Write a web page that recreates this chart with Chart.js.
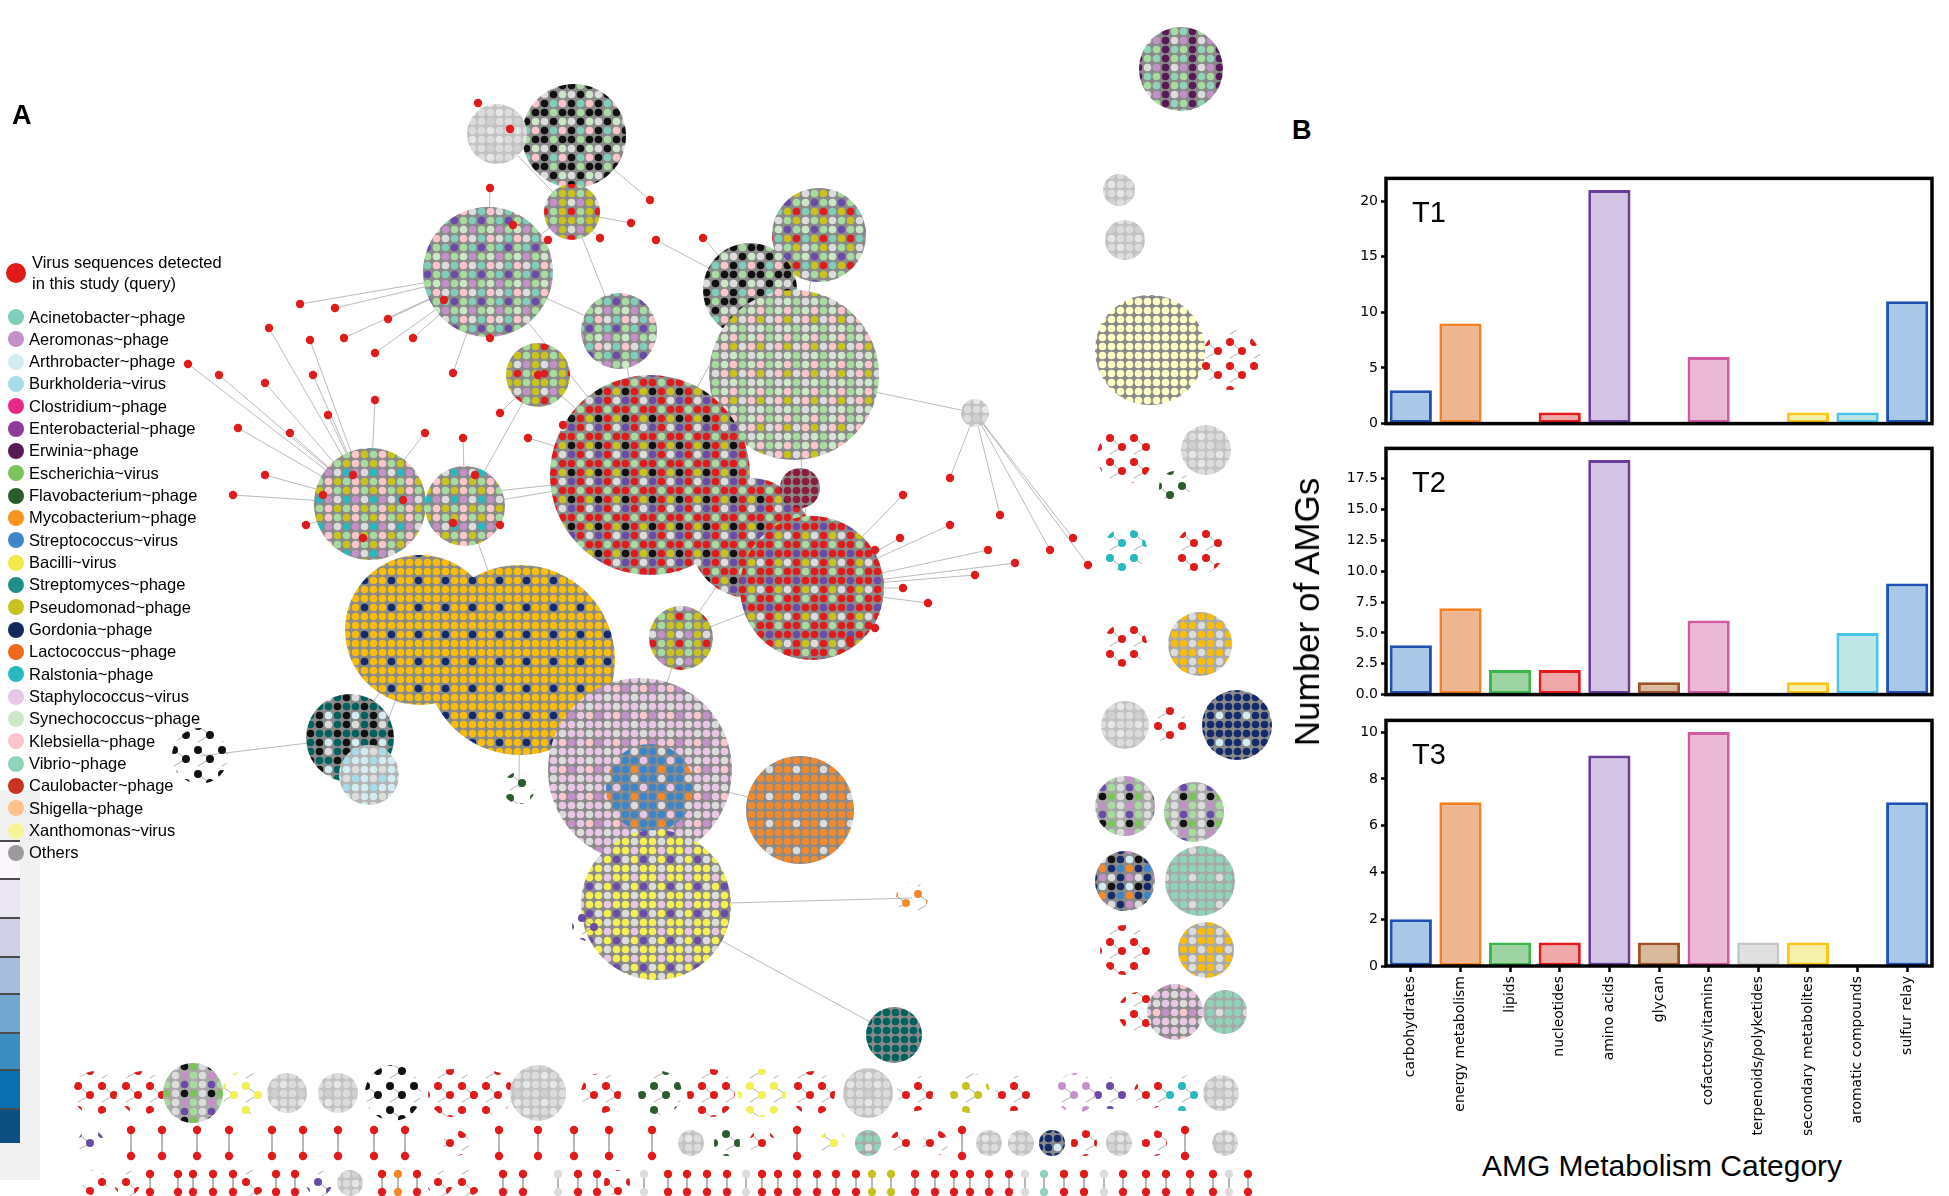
<!DOCTYPE html>
<html>
<head>
<meta charset="utf-8">
<script src="https://cdn.jsdelivr.net/npm/chart.js@4.4.0/dist/chart.umd.min.js"></script>
<style>
  body { margin:0; width:1949px; height:1196px; background:#fff; position:relative; overflow:hidden;
         font-family:"Liberation Sans", Arial, sans-serif; }
  canvas { position:absolute; }
  .lbl { position:absolute; white-space:nowrap; color:#000; }
  .panel { font-weight:bold; font-size:27px; }
  #legend { position:absolute; left:0; top:0; z-index:5; }
  .lg { position:absolute; font-size:16.5px; line-height:21px; white-space:nowrap; }
  .dot { position:absolute; border-radius:50%; }
  .strip { position:absolute; }
</style>
</head>
<body>
<canvas id="net" width="1290" height="1196" style="left:0;top:0"></canvas>
<canvas id="t1" width="659" height="268" style="left:1290px;top:172px"></canvas>
<canvas id="t2" width="659" height="269" style="left:1290px;top:442px"></canvas>
<canvas id="t3" width="659" height="426" style="left:1290px;top:714px"></canvas>
<div id="legend"></div>
<div class="lbl panel" style="left:12px;top:100px">A</div>
<div class="lbl panel" style="left:1292px;top:115px">B</div>
<div class="lbl" style="left:1307px;top:612px;font-size:35px;transform:translate(-50%,-50%) rotate(-90deg)">Number of AMGs</div>
<div class="lbl" style="left:1662px;top:1166px;font-size:30px;transform:translate(-50%,-50%)">AMG Metabolism Category</div>
<script>
// ---------- panel B data ----------
const categories = ['carbohydrates', 'energy metabolism', 'lipids', 'nucleotides', 'amino acids', 'glycan',
  'cofactors/vitamins', 'terpenoids/polyketides', 'secondary metabolites', 'aromatic compounds', 'sulfur relay'];
const t1Values = [3, 9, 0, 1, 21, 0, 6, 0, 1, 1, 11];
const t2Values = [4, 7, 2, 2, 19, 1, 6, 0, 1, 5, 9];
const t3Values = [2, 7, 1, 1, 9, 1, 10, 1, 1, 0, 7];
const t1Ticks = [0, 5, 10, 15, 20];
const t2Ticks = [0, 2.5, 5, 7.5, 10, 12.5, 15, 17.5];
const t3Ticks = [0, 2, 4, 6, 8, 10];

const barFill = ['#a9c8e8', '#eeb592', '#9dd4a1', '#f0a9a9', '#d4c5e5', '#d9ba9c', '#ebb8d5', '#e0e0e0', '#f5f0aa', '#c0e5e5', '#a9c8e8'];
const barEdge = ['#1f51b5', '#f58020', '#3cb64a', '#e41a1c', '#6a3d9a', '#9e5427', '#d159a1', '#c6c6c6', '#fdc41a', '#4ac5ea', '#1f51b5'];

// ---------- panel A data (positions, in page pixels) ----------
const legendNames = ['Acinetobacter~phage', 'Aeromonas~phage', 'Arthrobacter~phage', 'Burkholderia~virus', 'Clostridium~phage',
  'Enterobacterial~phage', 'Erwinia~phage', 'Escherichia~virus', 'Flavobacterium~phage', 'Mycobacterium~phage',
  'Streptococcus~virus', 'Bacilli~virus', 'Streptomyces~phage', 'Pseudomonad~phage', 'Gordonia~phage',
  'Lactococcus~phage', 'Ralstonia~phage', 'Staphylococcus~virus', 'Synechococcus~phage', 'Klebsiella~phage',
  'Vibrio~phage', 'Caulobacter~phage', 'Shigella~phage', 'Xanthomonas~virus', 'Others'];
const legendColors = ['#7fcdbb', '#c391c8', '#d3ecf1', '#a6dce8', '#e7298a', '#8e3b97', '#561a57', '#7dc35c', '#2b5c2e',
  '#f7941d', '#3d85c6', '#f3ea48', '#1f8f8a', '#c7c21e', '#10295a', '#ee6a1a', '#27b9bd', '#e6c7e6', '#cbe7c6',
  '#fbc6cb', '#8fd4b9', '#c8321f', '#fcc18c', '#f7f598', '#9a9a9a'];

const clusterX = [574, 497, 572, 488, 619, 819, 750, 794, 538, 650, 750, 812, 370, 465, 681, 420, 520, 640, 650, 656, 800,
  350, 200, 369, 894, 912, 519, 588, 800, 975,
  1181, 1119, 1125, 1150, 1231, 1125, 1206, 1175, 1125, 1200, 1125, 1200, 1237, 1125, 1169, 1125, 1194, 1125, 1200,
  1125, 1206, 1138, 1175, 1225];
const clusterY = [136, 134, 212, 272, 331, 235, 290, 375, 375, 475, 538, 588, 504, 506, 638, 630, 660, 770, 788, 905, 810,
  738, 756, 775, 1035, 898, 788, 925, 488, 413,
  69, 190, 240, 350, 360, 456, 450, 487, 550, 550, 645, 644, 725, 725, 725, 806, 812, 881, 881,
  950, 950, 1012, 1012, 1012];
const clusterR = [52, 30, 28, 65, 38, 47, 47, 85, 32, 100, 60, 72, 56, 40, 32, 75, 95, 92, 44, 75, 54,
  44, 28, 30, 28, 16, 16, 16, 20, 14,
  42, 16, 20, 55, 30, 28, 25, 16, 22, 24, 22, 32, 35, 24, 18, 30, 30, 30, 35,
  25, 28, 20, 28, 22];
const clusterKind = ['blackMix', 'lightGray', 'oliveMix', 'greenMix', 'greenMix', 'greenOlive', 'blackMix', 'lgreenPink',
  'oliveMix', 'central', 'central', 'redMix', 'pinkMix', 'pinkMix', 'oliveMix', 'gold', 'gold', 'staph', 'blue',
  'yellow', 'orange', 'tealMix', 'blackSparse', 'lblue', 'dteal', 'orangeSparse', 'dkgreenSparse', 'purpleMix',
  'caulo', 'lightGray',
  'erwinia', 'lightGray', 'lightGray', 'lyellow', 'redSparse', 'redSparse', 'lightGray', 'dkgreenSparse', 'tealSparse',
  'redSparse', 'redSparse', 'goldGray', 'navy', 'lightGray', 'redSparse', 'greenGray', 'greenGray', 'navyMix', 'vibrio',
  'redSparse', 'goldGray', 'redSparse', 'staph', 'vibrio'];
const links = [[0, 2], [1, 2], [1, 0], [2, 4], [2, 3], [3, 4], [3, 9], [4, 9], [5, 7], [6, 7], [6, 9], [7, 9], [8, 9],
  [8, 13], [9, 10], [9, 13], [12, 13], [10, 11], [13, 16], [11, 14], [14, 17], [16, 17], [15, 21], [21, 22], [21, 23],
  [15, 23], [17, 18], [17, 20], [17, 19], [19, 25], [19, 24], [19, 27], [26, 16], [14, 10], [28, 11], [29, 7], [9, 12], [7, 11]];

const queryX = [300, 335, 269, 310, 344, 188, 219, 265, 313, 375, 413, 453, 490, 375, 328, 290, 265, 233, 425, 463, 500,
  528, 353, 403, 453, 500, 538, 563, 306, 363, 388, 444, 238, 323, 475,
  478, 510, 490, 513, 548, 600, 656, 703, 650, 631,
  950, 1000, 1073, 1088, 1015, 875, 903, 928, 875, 850, 950, 903, 988, 1050, 975, 900];
const queryY = [304, 308, 328, 340, 338, 364, 375, 383, 375, 353, 338, 373, 338, 400, 415, 433, 475, 495, 433, 438, 413,
  438, 475, 500, 523, 525, 375, 425, 525, 538, 319, 300, 428, 495, 475,
  103, 129, 188, 225, 240, 238, 240, 238, 200, 223,
  525, 515, 538, 565, 563, 550, 588, 603, 628, 640, 478, 495, 550, 550, 575, 538];

// small components along the bottom
const row1X = [95, 142, 193, 244, 287, 338, 393, 452, 491, 538, 601, 660, 711, 762, 813, 868, 915, 970, 1013, 1076, 1111, 1150, 1182, 1221];
const row1Kind = ['redSparse', 'redSparse', 'greenGray', 'yellowSparse', 'lightGray', 'lightGray', 'blackSparse', 'redSparse',
  'redSparse', 'lightGray', 'redSparse', 'dkgreenSparse', 'redSparse', 'yellowSparse', 'redSparse', 'lightGray', 'redSparse',
  'oliveSparse', 'redSparse', 'aeromonas', 'purpleMix', 'redSparse', 'tealSparse', 'lightGray'];
const row1R = [22, 22, 30, 22, 20, 20, 28, 24, 22, 28, 20, 22, 24, 24, 22, 25, 18, 20, 18, 20, 16, 16, 18, 18];
const row2X = [91, 131, 162, 197, 229, 272, 303, 338, 374, 405, 456, 499, 538, 574, 609, 652, 691, 727, 762, 797, 833, 868,
  903, 935, 962, 989, 1021, 1052, 1084, 1119, 1154, 1185, 1225];
const row2Kind = ['purpleMix', 'pair', 'pair', 'pair', 'pair', 'pair', 'pair', 'pair', 'pair', 'pair', 'redSparse', 'pair', 'pair',
  'pair', 'pair', 'pair', 'lightGray', 'dkgreenSparse', 'redSparse', 'pair', 'yellowSparse', 'vibrio', 'redSparse', 'redSparse',
  'pair', 'lightGray', 'lightGray', 'navy', 'redSparse', 'lightGray', 'redSparse', 'pair', 'lightGray'];
const row3X = [95, 127, 150, 178, 193, 213, 233, 252, 276, 295, 319, 350, 382, 398, 417, 440, 468, 503, 523, 558, 578, 597,
  617, 644, 668, 687, 707, 727, 746, 762, 778, 797, 817, 836, 856, 872, 891, 915, 935, 954, 970, 989, 1009, 1025, 1044,
  1064, 1084, 1104, 1123, 1146, 1166, 1190, 1213, 1229, 1248];
const row3Kind = ['redSparse', 'redSparse', 'pair', 'pair', 'pair', 'pair', 'pair', 'redSparse', 'pair', 'pair', 'purpleMix',
  'lightGray', 'pair', 'pairOrange', 'pair', 'redSparse', 'redSparse', 'pair', 'pair', 'pairGray', 'pair', 'pair', 'redSparse',
  'pairGray', 'pair', 'pair', 'pair', 'pair', 'pairGray', 'pair', 'pair', 'pair', 'pair', 'pair', 'pair', 'pairOlive',
  'pairOlive', 'pair', 'pair', 'pair', 'pair', 'pair', 'pair', 'pairGray', 'pairVibrio', 'pair', 'pair', 'pairGray', 'pair',
  'pair', 'pair', 'pair', 'pair', 'pairGray', 'pair'];
const rowY = [1093, 1143, 1183];

// ---------- colours / patterns ----------
const C = {
  red: '#e01b1b', gray: '#8a8a8a', lgray: '#dcdcdc', black: '#111111', lgreen: '#a8dba0', syn: '#cbe7c6',
  aci: '#7fcdbb', aer: '#c391c8', purple: '#6a4ca8', olive: '#c7c21e', pink: '#fbc6cb', staph: '#e9c6e6',
  gold: '#f7bd0a', navy: '#132a6b', strep: '#3d85c6', orange: '#f08a2c', yellow: '#f4ef52', dteal: '#00625e',
  teal: '#27b9bd', lblue: '#d3ecf1', burk: '#a6dce8', erw: '#561a57', dkgreen: '#2b5c2e', vib: '#8fd4b9',
  lyel: '#ffffc6', caulo: '#8d1b3d', esc: '#7dc35c'
};
const mixes = {
  blackMix: [C.gray, [C.black, C.lgreen, C.black, C.lgray, C.black, C.syn, C.black, C.aci, C.pink]],
  lightGray: ['#c2c2c2', [C.lgray, '#e6e6e6', C.lgray, '#d0d0d0', C.lgray, C.lgray, '#e6e6e6', C.lgray, C.lgray]],
  oliveMix: [C.gray, [C.olive, C.lgreen, C.olive, C.lgray, C.aer, C.olive, C.red, C.lgreen, C.olive]],
  greenMix: [C.gray, [C.lgreen, C.aci, C.purple, C.syn, C.aer, C.lgreen, C.pink, C.lgray, C.aci]],
  greenOlive: [C.gray, [C.lgreen, C.olive, C.lgray, C.purple, C.lgreen, C.syn, C.olive, C.red, C.aci]],
  lgreenPink: [C.gray, [C.syn, C.lgreen, C.lgray, C.pink, C.lgreen, C.syn, C.olive, C.lgray, C.pink]],
  central: [C.gray, [C.red, C.lgreen, C.red, C.black, C.red, C.olive, C.purple, C.red, C.lgray]],
  redMix: [C.gray, [C.red, C.red, C.lgreen, C.red, C.purple, C.red, C.lgray, C.red, C.olive]],
  pinkMix: [C.gray, [C.pink, C.lgreen, C.olive, C.aer, C.lgray, C.teal, C.pink, C.olive, C.lgreen]],
  gold: [C.gray, [C.gold, C.gold, C.gold, C.gold, C.navy, C.gold, C.gold, C.gold, C.gold]],
  staph: [C.gray, [C.staph, C.staph, C.lgray, C.aer, C.staph, C.pink, C.staph, C.lgray, C.staph]],
  blue: [C.gray, [C.strep, C.strep, C.staph, C.strep, C.orange, C.strep, C.strep, C.lgray, C.strep]],
  yellow: [C.gray, [C.yellow, C.lgray, C.yellow, C.yellow, C.staph, C.yellow, C.lgray, C.yellow, C.purple]],
  orange: [C.gray, [C.orange, C.orange, C.orange, C.orange, C.lgray, C.orange, C.orange, C.orange, C.orange]],
  tealMix: [C.gray, [C.dteal, C.black, C.dteal, C.lblue, C.dteal, C.black, C.lgray, C.dteal, C.black]],
  lblue: ['#b4b4b4', [C.lblue, C.lblue, C.burk, C.lgray, C.lblue, C.lblue, C.burk, C.lblue, C.lgray]],
  dteal: [C.gray, [C.dteal, C.dteal, C.dteal, C.dteal, C.dteal, C.dteal, C.dteal, C.dteal, C.dteal]],
  erwinia: [C.gray, [C.erw, C.lgreen, C.vib, C.erw, C.lgray, C.aer, C.erw, C.vib, C.lgreen]],
  lyellow: [C.gray, [C.lyel, C.lyel, C.lyel, C.lyel, C.lyel, C.lyel, C.lyel, C.lyel, C.lyel]],
  navy: [C.gray, [C.navy, C.navy, C.navy, C.lblue, C.navy, C.navy, C.navy, C.navy, C.navy]],
  goldGray: ['#a8a8a8', [C.gold, C.lgray, C.gold, C.lgray, C.gold, C.gold, C.lgray, C.gold, C.gold]],
  greenGray: ['#a8a8a8', [C.lgreen, C.lgray, C.purple, C.esc, C.lgray, C.black, C.lgreen, C.lgray, C.aer]],
  navyMix: [C.gray, [C.navy, C.strep, C.orange, C.lgray, C.navy, C.aer, C.black, C.navy, C.lblue]],
  vibrio: ['#a8a8a8', [C.vib, C.vib, C.vib, C.lgray, C.vib, C.vib, C.vib, C.vib, C.vib]],
  caulo: [C.gray, [C.caulo, C.caulo, C.caulo, C.caulo, C.caulo, C.caulo, C.caulo, C.caulo, C.caulo]]
};
const sparse = {
  redSparse: C.red, yellowSparse: C.yellow, blackSparse: C.black, oliveSparse: C.olive, dkgreenSparse: C.dkgreen,
  tealSparse: C.teal, purpleMix: C.purple, aeromonas: C.aer, orangeSparse: C.orange
};
const pairColor = { pair: C.red, pairGray: C.lgray, pairOlive: C.olive, pairOrange: C.orange, pairVibrio: C.vib };

const netCanvas = document.getElementById('net');
const netCtx = netCanvas.getContext('2d');
const patternCache = {};
function patternFor(kind) {
  if (patternCache[kind]) return patternCache[kind];
  const tile = document.createElement('canvas');
  const g = tile.getContext('2d');
  if (sparse[kind]) {
    tile.width = 24; tile.height = 24;
    g.strokeStyle = '#9a9a9a'; g.lineWidth = 0.8;
    g.beginPath(); g.moveTo(6, 6); g.lineTo(18, 15); g.moveTo(18, 15); g.lineTo(6, 22); g.stroke();
    g.fillStyle = sparse[kind];
    [[6, 6], [18, 15]].forEach(p => { g.beginPath(); g.arc(p[0], p[1], 4, 0, Math.PI * 2); g.fill(); });
  } else {
    const m = mixes[kind];
    tile.width = 27; tile.height = 27;
    g.fillStyle = m[0]; g.fillRect(0, 0, 27, 27);
    m[1].forEach((col, i) => {
      g.fillStyle = col;
      g.beginPath(); g.arc(4.5 + (i % 3) * 9, 4.5 + Math.floor(i / 3) * 9, 3.8, 0, Math.PI * 2); g.fill();
    });
  }
  patternCache[kind] = netCtx.createPattern(tile, 'repeat');
  return patternCache[kind];
}

// ---------- build panel A datasets ----------
const clusterPts = [], clusterBg = [];
clusterX.forEach((x, i) => {
  clusterPts.push({ x: x, y: clusterY[i], r: clusterR[i] });
  clusterBg.push(patternFor(clusterKind[i]));
});
const pairPts = [], pairBg = [];
const edgePts = [];
function addRow(xs, kinds, y, rs) {
  xs.forEach((x, i) => {
    const k = kinds[i];
    if (pairColor[k]) {
      const dy = y > 1170 ? 9 : 13;
      pairPts.push({ x: x, y: y - dy }, { x: x, y: y + dy });
      pairBg.push(pairColor[k], pairColor[k]);
      edgePts.push({ x: x, y: y - dy }, { x: x, y: y + dy }, { x: x, y: null });
    } else {
      clusterPts.push({ x: x, y: y, r: rs ? rs[i] : 13 });
      clusterBg.push(patternFor(k));
    }
  });
}
addRow(row1X, row1Kind, rowY[0], row1R);
addRow(row2X, row2Kind, rowY[1]);
addRow(row3X, row3Kind, rowY[2]);

links.forEach(([a, b]) => {
  edgePts.push({ x: clusterX[a], y: clusterY[a] }, { x: clusterX[b], y: clusterY[b] }, { x: clusterX[a], y: null });
});
const queryPts = queryX.map((x, i) => ({ x: x, y: queryY[i] }));
queryPts.forEach(p => {
  let best = 0, bd = Infinity;
  for (let i = 0; i < 30; i++) {
    const d = Math.hypot(clusterX[i] - p.x, clusterY[i] - p.y) - clusterR[i];
    if (d < bd) { bd = d; best = i; }
  }
  edgePts.push(p, { x: clusterX[best], y: clusterY[best] }, { x: p.x, y: null });
});

new Chart(netCanvas, {
  type: 'bubble',
  data: {
    datasets: [
      { type: 'scatter', data: queryPts, backgroundColor: C.red, borderWidth: 0, pointRadius: 4.2, order: 0, clip: false },
      { type: 'scatter', data: pairPts, backgroundColor: pairBg, borderWidth: 0, pointRadius: 4.2, order: 0, clip: false },
      { type: 'bubble', data: clusterPts, backgroundColor: clusterBg, borderWidth: 0, order: 1, clip: false },
      { type: 'line', data: edgePts, borderColor: 'rgba(150,150,150,0.65)', borderWidth: 1, pointRadius: 0,
        spanGaps: false, order: 2, clip: false }
    ]
  },
  options: {
    responsive: false, animation: false, events: [],
    layout: { padding: 0, autoPadding: false },
    plugins: { legend: { display: false }, tooltip: { enabled: false } },
    scales: {
      x: { type: 'linear', min: 0, max: 1290, display: false },
      y: { type: 'linear', min: 0, max: 1196, reverse: true, display: false }
    }
  }
});

// ---------- legend of panel A ----------
const legend = document.getElementById('legend');
function addLegendItem(top, color, radius, html) {
  const d = document.createElement('div');
  d.className = 'dot';
  d.style.cssText = `left:${16 - radius}px;top:${top - radius}px;width:${radius * 2}px;height:${radius * 2}px;background:${color}`;
  legend.appendChild(d);
  const t = document.createElement('div');
  t.className = 'lg';
  t.style.left = (radius > 8 ? 32 : 29) + 'px';
  t.style.top = (top - (html.includes('<br>') ? 21 : 10.5)) + 'px';
  t.innerHTML = html;
  legend.appendChild(t);
}
addLegendItem(273, C.red, 10, 'Virus sequences detected<br>in this study (query)');
legendNames.forEach((n, i) => addLegendItem(317 + 22.33 * i, legendColors[i], 8, n));

// leftover colour strip at the left edge
const stripColors = ['#fbf6fb', '#ebe7f2', '#cfd0e6', '#a6bedb', '#72a7cf', '#3a8fc0', '#0a6fae', '#0c4f80'];
const stripBreaks = [840, 878, 917, 956, 993, 1032, 1069, 1108, 1143];
const bgStrip = document.createElement('div');
bgStrip.className = 'strip';
bgStrip.style.cssText = 'left:0;top:790px;width:40px;height:390px;background:#f1f1f1';
document.body.insertBefore(bgStrip, legend);
stripColors.forEach((c, i) => {
  const s = document.createElement('div');
  s.className = 'strip';
  s.style.cssText = `left:0;top:${stripBreaks[i]}px;width:20px;height:${stripBreaks[i + 1] - stripBreaks[i]}px;background:${c};border-top:2px solid #4a4a4a;box-sizing:border-box`;
  document.body.insertBefore(s, legend);
});

// ---------- panel B ----------
const framePlugin = {
  id: 'frame',
  afterDraw(chart, args, opts) {
    const { ctx, chartArea: a } = chart;
    ctx.save();
    ctx.lineWidth = 3.5;
    ctx.strokeStyle = '#000';
    ctx.strokeRect(a.left, a.top, a.right - a.left, a.bottom - a.top);
    ctx.fillStyle = '#000';
    ctx.font = '29px "Liberation Sans", Arial, sans-serif';
    ctx.textBaseline = 'middle';
    ctx.fillText(opts.label, a.left + 26, a.top + 36);
    ctx.restore();
  }
};

// areaTop / areaBottom: where the plot frame sits on the page
function makeBarChart(id, values, ticks, label, showX, areaTop, areaBottom) {
  const decimals = ticks.some(v => v % 1 !== 0) ? 1 : 0;
  const canvas = document.getElementById(id);
  const chart = new Chart(canvas, {
    type: 'bar',
    data: {
      labels: categories,
      datasets: [{
        data: values,
        backgroundColor: barFill,
        borderColor: barEdge,
        borderWidth: 3,
        borderSkipped: false,
        barPercentage: 0.85,
        categoryPercentage: 1
      }]
    },
    options: {
      responsive: false, animation: false, events: [],
      layout: { padding: { top: 0, right: 17, bottom: 0, left: 0 } },
      plugins: { legend: { display: false }, tooltip: { enabled: false }, frame: { label: label } },
      scales: {
        x: {
          display: showX,
          grid: { display: true, offset: false, drawOnChartArea: false, drawTicks: true, tickLength: 6, tickWidth: 2.5, tickColor: '#000' },
          border: { display: false },
          ticks: { color: '#000', font: { family: 'DejaVu Sans', size: 14 }, minRotation: 90, maxRotation: 90, padding: 4, autoSkip: false },
          afterFit(s) { s.height = showX ? 169 : 0; }
        },
        y: {
          min: 0,
          max: Math.max(...values) * 1.05,
          afterBuildTicks(s) { s.ticks = ticks.map(v => ({ value: v })); },
          afterFit(s) { s.width = 96; },
          grid: { drawOnChartArea: false, tickLength: 5, tickWidth: 2.5, tickColor: '#000' },
          border: { display: false },
          ticks: { color: '#000', font: { family: 'DejaVu Sans', size: 14 }, padding: 3,
                   callback: v => Number(v).toFixed(decimals) }
        }
      }
    },
    plugins: [framePlugin]
  });
  // fit the plot frame to the wanted height, then slide the canvas into place
  const a = chart.chartArea;
  const extra = (areaBottom - areaTop) - (a.bottom - a.top);
  if (Math.abs(extra) > 0.5) chart.resize(659, canvas.height + extra);
  canvas.style.top = (areaTop - chart.chartArea.top) + 'px';
  return chart;
}

makeBarChart('t1', t1Values, t1Ticks, 'T1', false, 178, 434);
makeBarChart('t2', t2Values, t2Ticks, 'T2', false, 448, 705);
makeBarChart('t3', t3Values, t3Ticks, 'T3', true, 720, 971);
</script>
</body>
</html>
